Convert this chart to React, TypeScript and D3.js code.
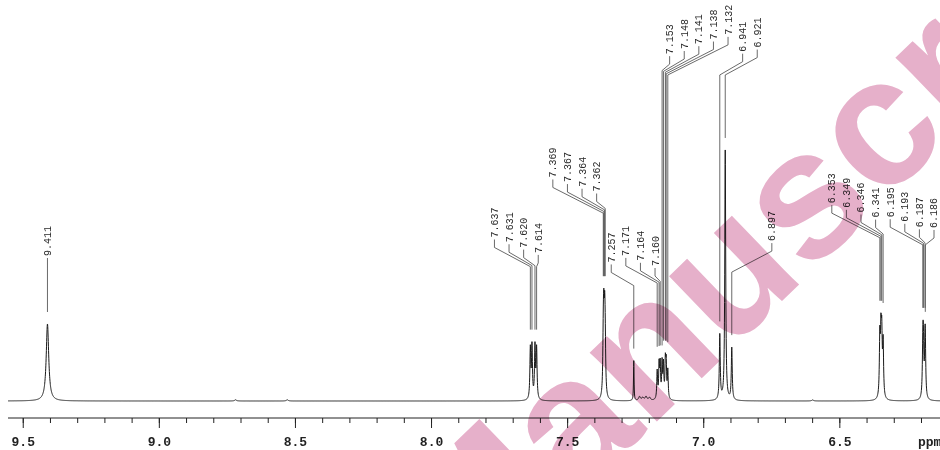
import React, { useMemo } from "react";
import * as d3 from "d3";

const W = 940;
const H = 450;

// Labelled signals: chemical shift (ppm), peak amplitude, half width (ppm)
const peakShifts = [
  9.411, 7.637, 7.631, 7.62, 7.614, 7.369, 7.367, 7.364, 7.362, 7.257, 7.171, 7.164, 7.16,
  7.153, 7.148, 7.141, 7.138, 7.132, 6.941, 6.921, 6.897, 6.353, 6.349, 6.346, 6.341, 6.195,
  6.193, 6.187, 6.186,
];
const peakAmplitudes = [
  77, 50, 52, 52, 50, 51, 62, 62, 45, 40, 28, 33, 33, 35, 33, 35, 33, 28, 65, 250, 52, 59, 56,
  56, 54, 50, 45, 40, 35,
];
const peakHalfWidths = [
  0.0055, 0.002, 0.002, 0.002, 0.002, 0.002, 0.002, 0.002, 0.002, 0.0012, 0.0018, 0.0018,
  0.0018, 0.0018, 0.0018, 0.0018, 0.0018, 0.0018, 0.002, 0.002, 0.002, 0.002, 0.002, 0.002,
  0.002, 0.002, 0.002, 0.002, 0.002,
];

// Small unlabelled signals on the baseline
const minorShifts = [8.72, 8.53, 7.236, 7.224, 7.212, 7.199, 6.6];
const minorAmplitudes = [1.2, 1.2, 4, 3, 4, 3, 1];

// Axis
const axisTicks = [9.5, 9.0, 8.5, 8.0, 7.5, 7.0, 6.5];
const axisTickLabels = ["9.5", "9.0", "8.5", "8.0", "7.5", "7.0", "6.5"];
const axisUnit = "ppm";
const watermarkText = "Manuscript";

function layoutLabels(xs: number[], gap: number, lo: number, hi: number): number[] {
  type C = { idx: number[]; start: number };
  const clusters: C[] = [];
  const place = (c: C) => {
    const n = c.idx.length;
    const mean = d3.mean(c.idx, (i) => xs[i]) as number;
    let s = mean - ((n - 1) * gap) / 2;
    s = Math.max(lo, Math.min(hi - (n - 1) * gap, s));
    c.start = s;
  };
  xs.forEach((_, i) => {
    const c: C = { idx: [i], start: 0 };
    place(c);
    clusters.push(c);
    while (clusters.length > 1) {
      const b = clusters[clusters.length - 1];
      const a = clusters[clusters.length - 2];
      const aEnd = a.start + (a.idx.length - 1) * gap;
      if (b.start < aEnd + gap) {
        a.idx.push(...b.idx);
        clusters.pop();
        place(a);
      } else break;
    }
  });
  const out: number[] = new Array(xs.length);
  clusters.forEach((c) => c.idx.forEach((i, k) => (out[i] = c.start + k * gap)));
  return out;
}

export default function App() {
  const x = d3.scaleLinear().domain([9.556, 6.132]).range([8, 940]);
  const y = d3.scaleLinear().domain([0, 250]).range([401, 151]);
  const axisY = 418;

  const { path, pts } = useMemo(() => {
    const grid = d3.range(9.556, 6.13, -0.0005);
    const pts = grid.map((p) => {
      let v = 0;
      peakShifts.forEach((s, i) => {
        const d = (p - s) / peakHalfWidths[i];
        v += peakAmplitudes[i] / (1 + d * d);
      });
      minorShifts.forEach((s, i) => {
        const d = (p - s) / 0.004;
        v += minorAmplitudes[i] / (1 + d * d);
      });
      return [x(p), y(v)] as [number, number];
    });
    const line = d3.line();
    return { path: line(pts) as string, pts };
  }, []);

  const minY = (a: number, b: number) => {
    let m = Infinity;
    for (const [px, py] of pts) if (px >= a && px <= b && py < m) m = py;
    return m;
  };

  const peakX = peakShifts.map((s) => x(s));
  const labelX = layoutLabels(peakX, 14.6, 8, 934);
  const rise = peakX.map((px, i) => 3 + 0.45 * Math.abs(labelX[i] - px));
  const elbow = peakX.map((px, i) => {
    const lo = Math.min(px, labelX[i]) - 4;
    const hi = Math.max(px, labelX[i]) + 4;
    const straight = Math.abs(labelX[i] - px) < 0.5;
    return minY(lo, hi) - (straight ? 55 : 75);
  });
  for (let it = 0; it < 40; it++) {
    for (let i = 0; i < peakX.length; i++) {
      const dx = labelX[i] - peakX[i];
      if (Math.abs(dx) < 0.5) continue;
      for (let j = 0; j < peakX.length; j++) {
        if (j === i) continue;
        const f = (peakX[j] - peakX[i]) / dx;
        if (f > 0 && f < 1) {
          const yd = elbow[i] - rise[i] * f;
          if (yd > elbow[j] - 2) elbow[i] = elbow[j] - 2 + rise[i] * f;
        }
      }
    }
  }
  const lineEnd = peakX.map((px) => minY(px - 2, px + 2) - 12);
  const legLen = 8;

  const minorTicks = d3.range(9.5, 6.15, -0.1);

  return (
    <svg
      width={W}
      height={H}
      style={{ position: "absolute", left: 0, top: 0, background: "#fff" }}
    >
      <path d={path} fill="none" stroke="#1a1a1a" strokeWidth={1} />
      {peakShifts.map((s, i) => {
        const px = peakX[i];
        const lx = labelX[i];
        const e = elbow[i];
        const top = e - rise[i];
        const tb = top - legLen;
        return (
          <g key={i}>
            <polyline
              points={`${px},${lineEnd[i]} ${px},${e} ${lx},${top} ${lx},${tb}`}
              fill="none"
              stroke="#444"
              strokeWidth={0.8}
            />
            <text
              x={lx}
              y={tb - 2}
              transform={`rotate(-90, ${lx}, ${tb - 2})`}
              dy="0.35em"
              fontFamily="'Liberation Mono', 'DejaVu Sans Mono', monospace"
              fontSize={10}
              fill="#2a2a2a"
            >
              {s.toFixed(3)}
            </text>
          </g>
        );
      })}
      <line x1={8} x2={940} y1={axisY} y2={axisY} stroke="#222" strokeWidth={1} />
      {minorTicks.map((t, i) => (
        <line key={i} x1={x(t)} x2={x(t)} y1={axisY} y2={axisY + 5} stroke="#222" strokeWidth={1} />
      ))}
      {axisTicks.map((t, i) => (
        <g key={i}>
          <line x1={x(t)} x2={x(t)} y1={axisY} y2={axisY + 10} stroke="#222" strokeWidth={1} />
          <text
            x={x(t)}
            y={446}
            textAnchor="middle"
            fontFamily="'Liberation Mono', monospace"
            fontWeight="bold"
            fontSize={13}
            fill="#222"
          >
            {axisTickLabels[i]}
          </text>
        </g>
      ))}
      <text
        x={918}
        y={446}
        fontFamily="'Liberation Mono', monospace"
        fontWeight="bold"
        fontSize={13}
        fill="#222"
      >
        {axisUnit}
      </text>
      <text
        x={466}
        y={606}
        transform="rotate(-44, 466, 606)"
        fontFamily="'Liberation Sans', Arial, sans-serif"
        fontWeight="bold"
        fontSize={182}
        fill="#e6b0ca"
        style={{ mixBlendMode: "multiply" }}
      >
        {watermarkText}
      </text>
    </svg>
  );
}
